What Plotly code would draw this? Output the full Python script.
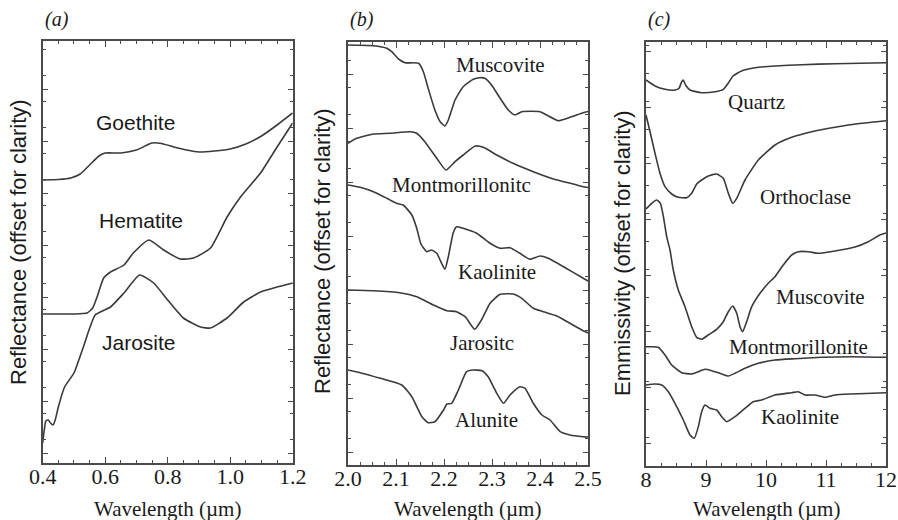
import plotly.graph_objects as go

# ---------------- data (arbitrary offset units) ----------------
# Panel (a): VNIR reflectance
a_goethite_x = [0.40, 0.45, 0.49, 0.52, 0.55, 0.58, 0.60, 0.65, 0.70, 0.75, 0.78, 0.82, 0.86, 0.90, 0.95, 1.00, 1.05, 1.10, 1.15, 1.20]
a_goethite_y = [285, 285.5, 287, 291, 300, 309, 312, 312, 315, 322, 321.5, 318, 315, 313, 314, 316, 321, 329, 340, 352]

a_hematite_x = [0.40, 0.45, 0.50, 0.542, 0.56, 0.574, 0.595, 0.617, 0.66, 0.69, 0.74, 0.787, 0.84, 0.883, 0.937, 0.99, 1.033, 1.097, 1.15, 1.20]
a_hematite_y = [151, 151, 151, 152, 157, 168, 187, 193, 200, 212, 225, 215, 206, 207, 217, 248, 268, 292, 318, 342]

a_jarosite_x = [0.400, 0.405, 0.41, 0.418, 0.425, 0.433, 0.44, 0.45, 0.47, 0.50, 0.53, 0.568, 0.617, 0.66, 0.71, 0.755, 0.80, 0.85, 0.905, 0.937, 0.99, 1.043, 1.097, 1.15, 1.20]
a_jarosite_y = [22, 35, 44, 45, 42, 40, 45, 58, 78, 92, 118, 150, 158, 172, 190, 182, 165, 147, 138, 137, 147, 163, 173, 178, 182]

# Panel (b): SWIR reflectance
b_muscovite_x = [2.000, 2.053, 2.081, 2.091, 2.108, 2.119, 2.147, 2.157, 2.167, 2.181, 2.192, 2.202, 2.209, 2.223, 2.240, 2.261, 2.275, 2.285, 2.299, 2.317, 2.334, 2.348, 2.362, 2.400, 2.414, 2.438, 2.4625, 2.49, 2.50]
b_muscovite_y = [420, 419.3, 416.7, 413.3, 405, 402.3, 401.7, 393.3, 376.7, 355, 343.3, 339, 345, 365, 378.3, 385.7, 387.3, 386.7, 380, 366.7, 355, 350, 353.3, 353.3, 350, 344.3, 347.7, 352.3, 353.5]

b_montmor_x = [2.000, 2.018, 2.053, 2.0875, 2.129, 2.143, 2.160, 2.185, 2.204, 2.223, 2.240, 2.265, 2.282, 2.310, 2.344, 2.386, 2.428, 2.469, 2.49, 2.50]
b_montmor_y = [321.7, 326.7, 331, 331.7, 333.3, 331.7, 323.3, 306.7, 295, 303.3, 310, 319, 317.7, 310, 301.7, 293.3, 286, 281, 278.3, 277.5]

b_kaolinite_x = [2.000, 2.025, 2.053, 2.081, 2.101, 2.115, 2.133, 2.143, 2.152, 2.164, 2.174, 2.185, 2.195, 2.202, 2.209, 2.219, 2.226, 2.240, 2.268, 2.296, 2.317, 2.3375, 2.358, 2.379, 2.400, 2.417, 2.449, 2.49, 2.50]
b_kaolinite_y = [280, 277.7, 273.3, 266.7, 261.7, 260, 250, 237, 221, 213.3, 215, 211.7, 201.7, 195.7, 208.3, 231.7, 238.3, 236.7, 231.7, 221.7, 216.7, 217.3, 211.7, 205.7, 209, 206.7, 198.3, 186.7, 184]

b_jarosite_x = [2.000, 2.053, 2.108, 2.143, 2.178, 2.206, 2.226, 2.244, 2.264, 2.278, 2.296, 2.317, 2.344, 2.362, 2.386, 2.407, 2.435, 2.4625, 2.49, 2.50]
b_jarosite_y = [175, 174.3, 172.3, 168.3, 160, 154.3, 153.3, 148.3, 135.7, 145, 161.7, 170.7, 171, 166.7, 156.7, 153.3, 149, 141.7, 134.3, 132]

b_alunite_x = [2.000, 2.025, 2.067, 2.112, 2.133, 2.154, 2.167, 2.181, 2.199, 2.206, 2.216, 2.230, 2.247, 2.261, 2.279, 2.292, 2.310, 2.324, 2.3375, 2.358, 2.369, 2.386, 2.404, 2.421, 2.442, 2.4625, 2.49, 2.50]
b_alunite_y = [95, 92.3, 86.7, 80, 68.3, 48.3, 42.3, 43.3, 55, 61, 61.7, 75, 93.3, 95, 94.3, 88.3, 71.7, 61.7, 70, 78.3, 76.7, 61.7, 50, 45, 33.3, 30, 28.3, 28]

# Panel (c): TIR emissivity
c_quartz_x = [8.0, 8.15, 8.317, 8.483, 8.55, 8.595, 8.62, 8.66, 8.733, 8.93, 9.15, 9.29, 9.37, 9.45, 9.6, 9.82, 10.15, 10.6, 11.15, 12.0]
c_quartz_y = [385, 379, 375.7, 375, 376.7, 383.3, 385, 380, 375, 372.3, 373.3, 375.7, 381.7, 389, 394.3, 397.3, 399, 400.3, 401.3, 402.3]

c_orthoclase_x = [8.0, 8.067, 8.15, 8.233, 8.317, 8.428, 8.538, 8.678, 8.762, 8.845, 8.928, 9.038, 9.178, 9.288, 9.372, 9.445, 9.512, 9.65, 9.872, 10.15, 10.428, 10.762, 11.15, 11.595, 12.0]
c_orthoclase_y = [350, 333.3, 311.7, 291.7, 278.3, 271, 267.7, 267.3, 271.7, 281, 285, 289, 291, 286.7, 271.7, 261.7, 266.7, 285, 305, 320, 327.7, 333.3, 337.7, 341.7, 344.3]

c_muscovite_x = [8.0, 8.095, 8.18, 8.24, 8.29, 8.345, 8.4, 8.455, 8.538, 8.65, 8.762, 8.845, 8.928, 9.038, 9.178, 9.288, 9.372, 9.445, 9.512, 9.567, 9.612, 9.678, 9.762, 9.9, 10.038, 10.15, 10.288, 10.428, 10.538, 10.705, 10.872, 11.15, 11.483, 11.705, 11.9, 12.0]
c_muscovite_y = [256, 261.7, 265, 261.7, 248.3, 228.3, 215, 195, 175, 158.3, 138.3, 127.7, 125.7, 130, 135.7, 143.3, 153.3, 159, 151.7, 138.3, 133.3, 143.3, 158.3, 171.7, 181.7, 188.3, 200, 210, 213.3, 213.3, 211.7, 214, 218, 223.3, 230, 232]

c_montmor_x = [8.0, 8.095, 8.205, 8.317, 8.428, 8.595, 8.762, 8.872, 8.983, 9.095, 9.262, 9.372, 9.483, 9.65, 9.872, 10.15, 10.483, 10.928, 11.428, 12.0]
c_montmor_y = [118.3, 118.3, 117.7, 110, 100, 92.3, 91, 93.3, 95.7, 94.3, 91, 89, 91.7, 96.7, 101.7, 105, 106.3, 107.7, 108.3, 107.7]

c_kaolinite_x = [8.0, 8.15, 8.262, 8.372, 8.483, 8.622, 8.733, 8.805, 8.872, 8.928, 8.983, 9.067, 9.178, 9.262, 9.345, 9.483, 9.65, 9.788, 9.928, 10.15, 10.428, 10.538, 10.65, 10.817, 10.983, 11.15, 11.428, 12.0]
c_kaolinite_y = [80, 81, 80, 73.3, 61.7, 45, 30, 26.7, 38.3, 53.3, 60, 56.7, 55, 48.3, 43.3, 48.3, 56.7, 63.3, 65, 70, 72.3, 73.3, 70, 70, 67.7, 70, 71, 72.3]

# curve labels: (text, x, y)
a_labels = [("Goethite", 0.697, 343), ("Hematite", 0.713, 245), ("Jarosite", 0.707, 123)]
b_labels = [("Muscovite", 2.317, 400), ("Montmorillonitc", 2.237, 280), ("Kaolinite", 2.31, 192.7),
            ("Jarositc", 2.279, 121.7), ("Alunite", 2.289, 45)]
c_labels = [("Quartz", 9.845, 363.3), ("Orthoclase", 10.65, 268.3), ("Muscovite", 10.9, 168.3),
            ("Montmorillonite", 10.54, 118.3), ("Kaolinite", 10.57, 48.3)]

panel_letters = ["(a)", "(b)", "(c)"]
y_titles = ["Reflectance (offset for clarity)", "Reflectance (offset for clarity)", "Emmissivity (offset for clarity)"]
x_title = "Wavelength (\u00b5m)"

# ---------------- styling ----------------
W, H = 898, 520
LINE = "#3a3a3a"
FRAME = "#4a4a4a"
TXT = "#1a1a1a"
SERIF = "Liberation Serif"
SANS = "Liberation Sans"

def px_dom_x(x0, x1):
    return [x0 / W, x1 / W]

def px_dom_y(top, bottom):
    return [(H - bottom) / H, (H - top) / H]

fig = go.Figure()

panels = [
    dict(series=[(a_goethite_x, a_goethite_y), (a_hematite_x, a_hematite_y), (a_jarosite_x, a_jarosite_y)],
         labels=a_labels, lfont=SANS, xr=[0.4, 1.2], dt=0.2, mdt=0.05, fmt=".1f",
         xd=(42.7, 292.7), yd=(41, 463), yr=[2, 424], ydt=52, ytick0=12, ymdt=26,
         ytitle_x=18, ytitle_y=242),
    dict(series=[(b_muscovite_x, b_muscovite_y), (b_montmor_x, b_montmor_y), (b_kaolinite_x, b_kaolinite_y),
                 (b_jarosite_x, b_jarosite_y), (b_alunite_x, b_alunite_y)],
         labels=b_labels, lfont=SERIF, xr=[2.0, 2.5], dt=0.1, mdt=0.025, fmt=".1f",
         xd=(348, 588), yd=(42, 465), yr=[0, 423], ydt=54, ytick0=13, ymdt=27,
         ytitle_x=323, ytitle_y=251),
    dict(series=[(c_quartz_x, c_quartz_y), (c_orthoclase_x, c_orthoclase_y), (c_muscovite_x, c_muscovite_y),
                 (c_montmor_x, c_montmor_y), (c_kaolinite_x, c_kaolinite_y)],
         labels=c_labels, lfont=SERIF, xr=[8, 12], dt=1, mdt=0.25, fmt="d",
         xd=(646, 886), yd=(42, 466), yr=[-1, 423], ydt=56, ytick0=22, ymdt=28,
         ytitle_x=622, ytitle_y=253),
]

annotations = []
layout_axes = {}
for i, p in enumerate(panels):
    k = "" if i == 0 else str(i + 1)
    xa, ya = "x" + k, "y" + k
    for xs, ys in p["series"]:
        fig.add_trace(go.Scatter(x=xs, y=ys, mode="lines", xaxis=xa, yaxis=ya,
                                 line=dict(color=LINE, width=1.6, shape="spline", smoothing=0.5),
                                 showlegend=False, hoverinfo="skip"))
    layout_axes["xaxis" + k] = dict(
        domain=px_dom_x(*p["xd"]), anchor=ya, range=p["xr"], dtick=p["dt"], tick0=p["xr"][0],
        tickformat=p["fmt"], ticks="inside", ticklen=6, tickwidth=1.2, tickcolor=FRAME,
        minor=dict(ticks="inside", ticklen=3, dtick=p["mdt"], tickcolor=FRAME, tickwidth=1),
        showline=True, linecolor=FRAME, linewidth=1.6, mirror="allticks",
        showgrid=False, zeroline=False, fixedrange=True, ticklabelstandoff=-7,
        tickfont=dict(family=SERIF, size=22, color=TXT))
    layout_axes["yaxis" + k] = dict(
        domain=px_dom_y(*p["yd"]), anchor=xa, range=p["yr"], dtick=p["ydt"], tick0=p["ytick0"],
        ticks="inside", ticklen=5, tickwidth=1.1, tickcolor=FRAME,
        minor=dict(ticks="inside", ticklen=3, dtick=p["ymdt"], tickcolor=FRAME, tickwidth=1),
        showticklabels=False, showline=True, linecolor=FRAME, linewidth=1.6, mirror="allticks",
        showgrid=False, zeroline=False, fixedrange=True)
    for txt, lx, ly in p["labels"]:
        annotations.append(dict(text=txt, x=lx, y=ly, xref=xa, yref=ya, showarrow=False,
                                xanchor="center", yanchor="middle",
                                font=dict(family=p["lfont"], size=21, color=TXT)))
    # panel letter
    annotations.append(dict(text="<i>" + panel_letters[i] + "</i>", x=p["xd"][0] / W, y=(H - 20) / H,
                            xref="paper", yref="paper", showarrow=False, xanchor="left", yanchor="middle",
                            font=dict(family=SERIF, size=20, color=TXT)))
    # y title
    annotations.append(dict(text=y_titles[i], x=p["ytitle_x"] / W, y=(H - p["ytitle_y"]) / H,
                            xref="paper", yref="paper", showarrow=False, textangle=-90,
                            xanchor="center", yanchor="middle",
                            font=dict(family=SANS, size=22, color=TXT)))
    # x title
    annotations.append(dict(text=x_title, x=(p["xd"][0] + p["xd"][1]) / 2 / W, y=(H - 509) / H,
                            xref="paper", yref="paper", showarrow=False,
                            xanchor="center", yanchor="middle",
                            font=dict(family=SERIF, size=21, color=TXT)))

fig.update_layout(width=W, height=H, margin=dict(l=0, r=0, t=0, b=0, autoexpand=False),
                  paper_bgcolor="white", plot_bgcolor="white",
                  annotations=annotations, **layout_axes)

fig.write_html("out.html", config={"displayModeBar": False, "responsive": False},
               post_script="document.body.style.margin='0';document.body.style.overflow='hidden';")
